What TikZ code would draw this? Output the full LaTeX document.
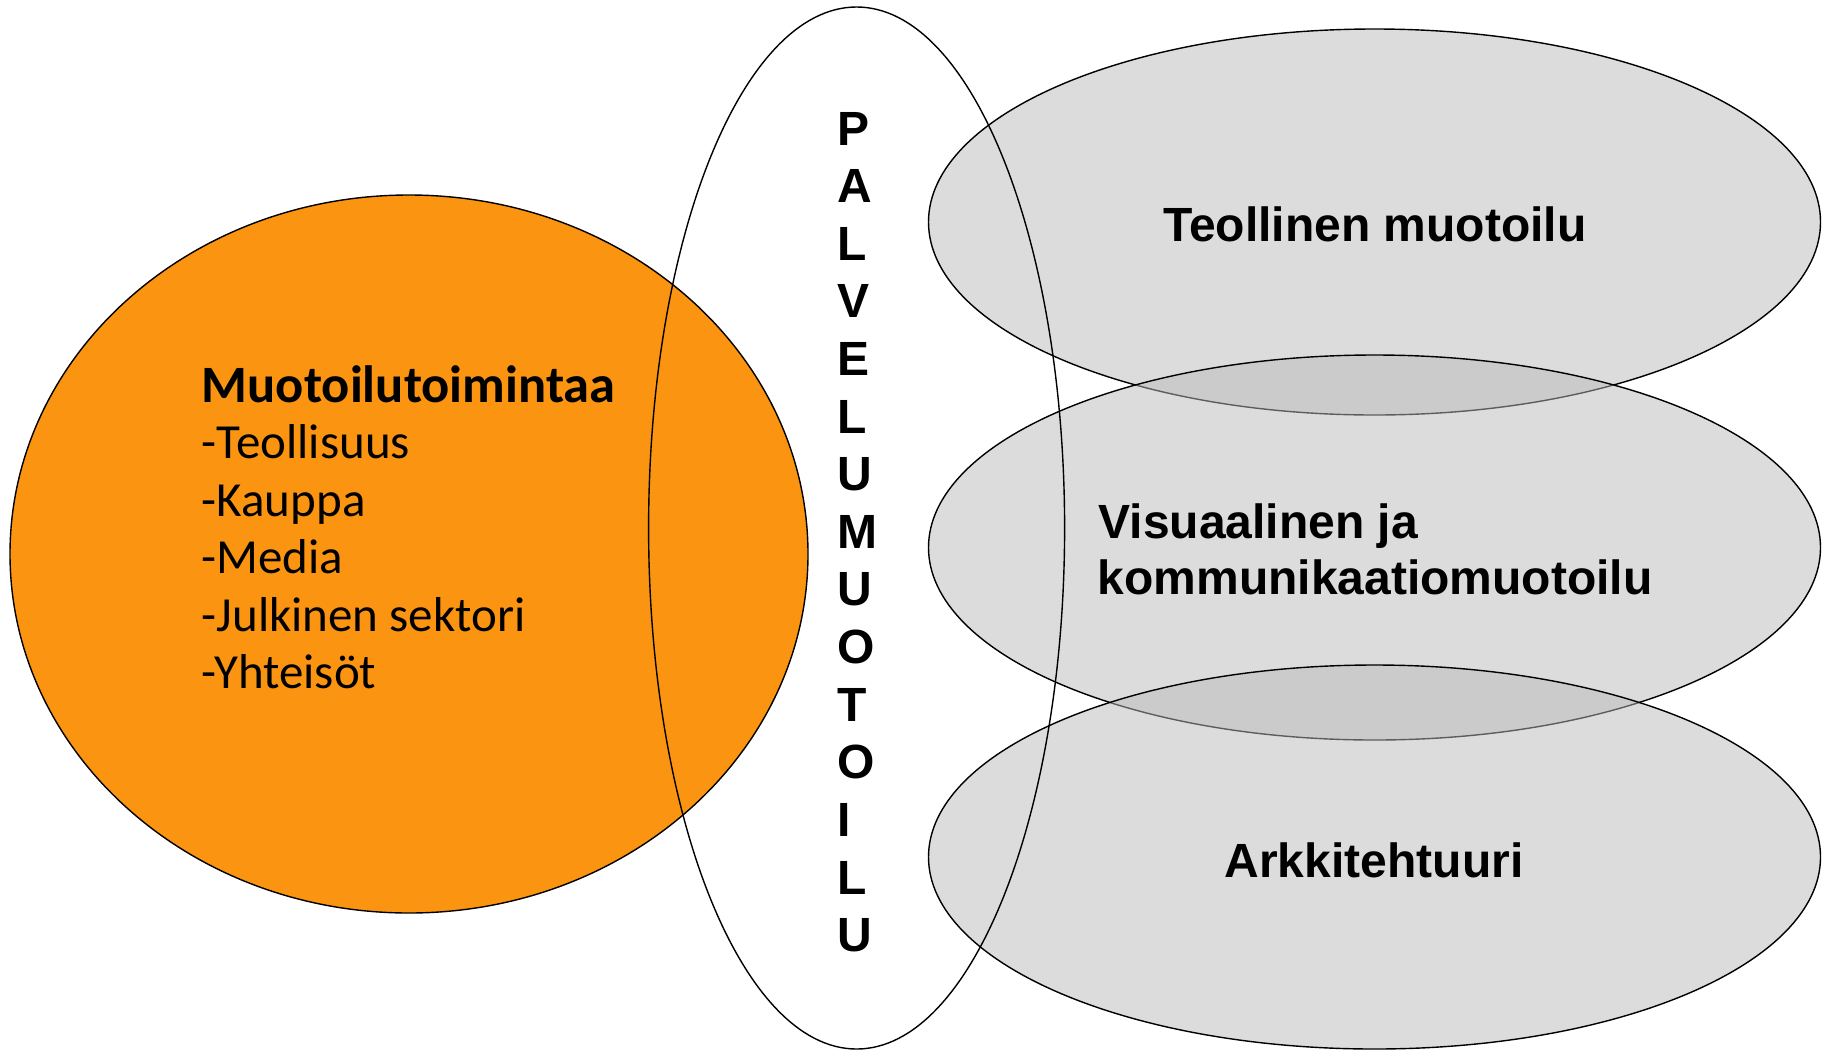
\documentclass[tikz,border=0pt]{standalone}
\usepackage{fontspec}
\newfontfamily\carlito{Carlito}
\newfontfamily\arialfont{Liberation Sans}
\definecolor{orangefill}{RGB}{250,148,17}
\definecolor{grayfill}{RGB}{187,187,187}
\begin{document}
\begin{tikzpicture}[x=1pt,y=-1pt,line width=1.4pt,
  outline/.style={draw=black},
  grayell/.style={outline,fill=grayfill,fill opacity=0.5},
  titletext/.style={anchor=base west,inner sep=0pt,font=\carlito\bfseries\fontsize{52.5}{57.6}\selectfont},
  listtext/.style={anchor=base west,inner sep=0pt,font=\carlito\fontsize{49}{57.6}\selectfont},
  righttext/.style={inner sep=0pt,font=\arialfont\bfseries\fontsize{48}{57.6}\selectfont},
  vletter/.style={anchor=base west,inner sep=0pt,font=\arialfont\bfseries\fontsize{48}{57.6}\selectfont}]
\useasboundingbox (0,0) rectangle (1822,1050);
\fill[white] (0,0) rectangle (1822,1050);
% orange ellipse
\draw[outline,fill=orangefill] (409,554) ellipse [x radius=399pt, y radius=359pt];
% gray ellipses
\draw[grayell] (1374.5,222) ellipse [x radius=446pt, y radius=193pt];
\draw[grayell] (1374.5,547.5) ellipse [x radius=446pt, y radius=192.5pt];
\draw[grayell] (1374.5,857) ellipse [x radius=446pt, y radius=192pt];
% tall ellipse
\draw[outline] (856.6,528) ellipse [x radius=208pt, y radius=521pt];
% left texts
\node[titletext] (title) at (201,402) {Muotoilutoimintaa};
\node[listtext] (l1) at (201,458.5) {-Teollisuus};
\node[listtext] (l2) at (201,516.1) {-Kauppa};
\node[listtext] (l3) at (201,573.7) {-Media};
\node[listtext] (l4) at (201,631.3) {-Julkinen sektori};
\node[listtext] (l5) at (201,688.9) {-Yhteisöt};
% vertical letters
\foreach \l [count=\i from 0] in {P,A,L,V,E,L,U,M,U,O,T,O,I,L,U}
  \node[vletter] (v\i) at (837,{145+57.62*\i}) {\l};
% right texts
\node[righttext,anchor=base] (teol) at (1375,241.5) {Teollinen muotoilu};
\node[righttext,anchor=base west] (vis1) at (1098,538.5) {Visuaalinen ja};
\node[righttext,anchor=base west] (vis2) at (1097,594.5) {kommunikaatiomuotoilu};
\node[righttext,anchor=base] (ark) at (1374,877) {Arkkitehtuuri};
\end{tikzpicture}
\end{document}
